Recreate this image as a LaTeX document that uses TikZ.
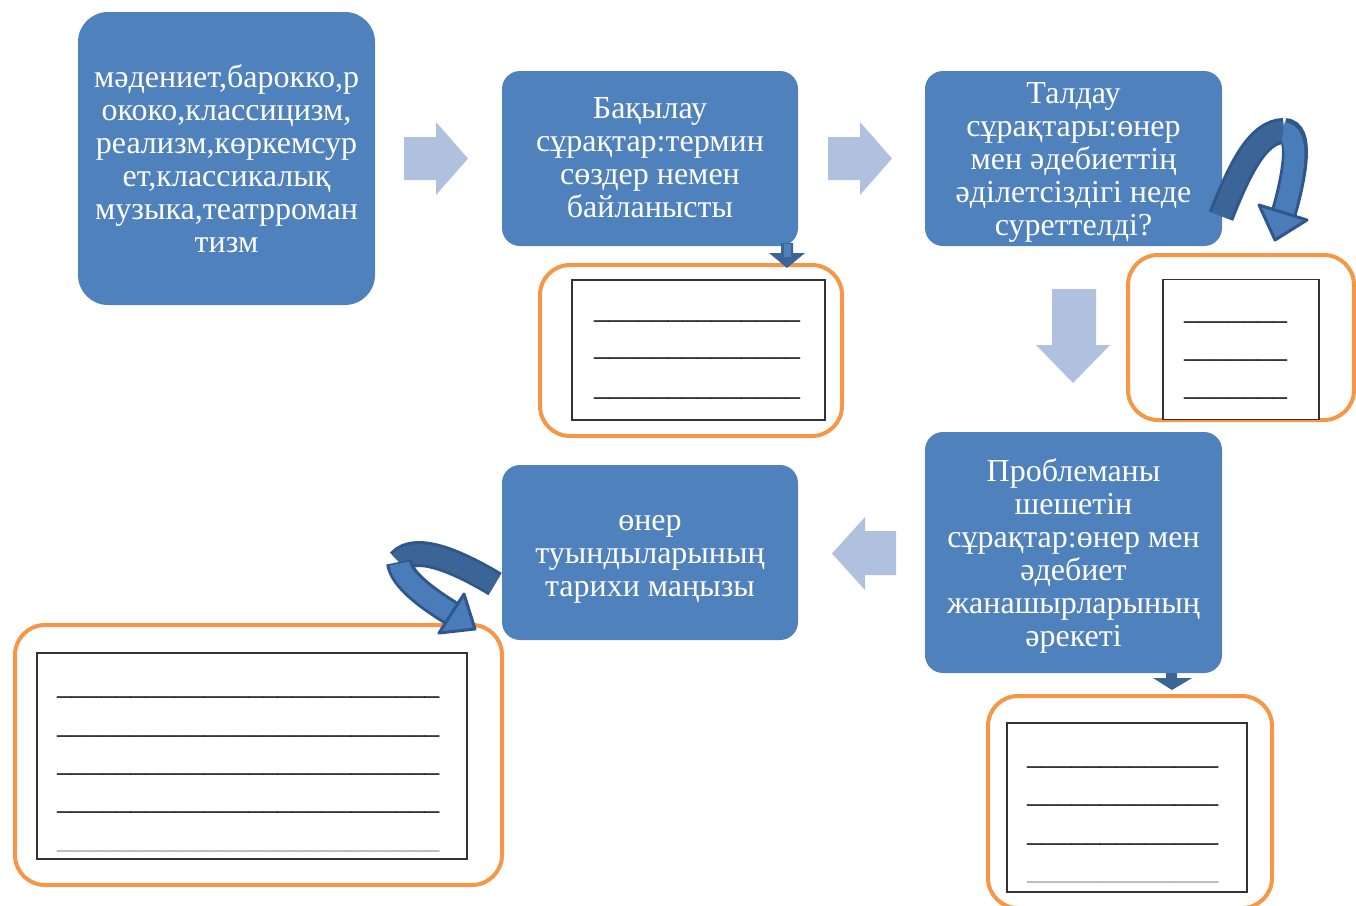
\documentclass[tikz,border=0pt]{standalone}
\usepackage{fontspec}
\setmainfont{Liberation Serif}
\definecolor{boxblue}{HTML}{4F81BD}
\definecolor{lightarrow}{HTML}{AFC1DE}
\definecolor{orangeline}{HTML}{F79646}
\definecolor{darkarrow}{HTML}{3C6597}
\definecolor{arrowedge}{HTML}{30568A}
\definecolor{arrowface}{HTML}{4A7CBA}
\begin{document}
\begin{tikzpicture}[x=1pt,y=-1pt,
  bluebox/.style={fill=boxblue, rounded corners=18pt, inner sep=0pt},
  boxtext/.style={text=white, font=\fontsize{32}{33}\selectfont, align=center, inner sep=0pt},
  orangebox/.style={draw=orangeline, line width=4pt, rounded corners=30pt, inner sep=0pt},
  innerbox/.style={draw=black!80, fill=white, line width=1.3pt, inner sep=0pt},
  uline/.style={anchor=base west, inner sep=0pt, font=\fontsize{29.4}{30}\selectfont},
  grayline/.style={uline, text=black!35},
  lightarr/.style={fill=lightarrow},
  smallarr/.style={fill=darkarrow},
  bandedge/.style={draw=arrowedge, line width=26pt},
  bandback/.style={draw=darkarrow, line width=20pt},
  bandfront/.style={draw=arrowface, line width=20pt},
  headstyle/.style={fill=arrowface, draw=arrowedge, line width=3pt, line join=round}
]
\useasboundingbox (0,0) rectangle (1356,905);
\clip (0,0) rectangle (1356,905);

% blue boxes
\node[bluebox, rounded corners=30pt, minimum width=297pt, minimum height=293pt] (b1) at (226.5,158.5) {};
\node[boxtext] (t1) at (226.5,159)
  {мәдениет,барокко,р\\ококо,классицизм,\\реализм,көркемсур\\ет,классикалық\\музыка,театрроман\\тизм};
\node[bluebox, minimum width=296pt, minimum height=175pt] (b2) at (650,158.5) {};
\node[boxtext] (t2) at (650,158)
  {Бақылау\\сұрақтар:термин\\сөздер немен\\байланысты};
\node[bluebox, minimum width=297pt, minimum height=175pt] (b3) at (1073.5,158.5) {};
\node[boxtext] (t3) at (1073.5,162)
  {Талдау\\сұрақтары:өнер\\мен әдебиеттің\\әділетсіздігі  неде\\суреттелді?};
\node[bluebox, minimum width=297pt, minimum height=241pt] (b4) at (1073.5,552.5) {};
\node[boxtext] (t4) at (1073.5,556)
  {Проблеманы\\шешетін\\сұрақтар:өнер мен\\әдебиет\\жанашырларының\\әрекеті};
\node[bluebox, minimum width=296pt, minimum height=175pt] (b5) at (650,552.5) {};
\node[boxtext] (t5) at (650,559)
  {өнер\\туындыларының\\тарихи маңызы};

% light block arrows
\fill[lightarr] (404,137) -- (436,137) -- (436,122) -- (468,158.5) -- (436,195) -- (436,180) -- (404,180) -- cycle;
\fill[lightarr] (828,137) -- (860,137) -- (860,122) -- (892,158.5) -- (860,195) -- (860,180) -- (828,180) -- cycle;
\fill[lightarr] (1052,289) -- (1096,289) -- (1096,345) -- (1110,345) -- (1073,383) -- (1036,345) -- (1052,345) -- cycle;
\fill[lightarr] (896,531) -- (865,531) -- (865,517) -- (832,553.5) -- (865,590) -- (865,575) -- (896,575) -- cycle;

% orange answer boxes
\node[orangebox, minimum width=302pt, minimum height=171pt] (o1) at (691,350.5) {};
\node[innerbox, minimum width=253pt, minimum height=140pt] (r1) at (698.5,350) {};
\node[orangebox, minimum width=226pt, minimum height=165pt] (o2) at (1241,337.5) {};
\node[innerbox, minimum width=156pt, minimum height=140pt] (r2) at (1241,349.5) {};
\node[orangebox, minimum width=284pt, minimum height=212pt] (o4) at (1130,802) {};
\node[innerbox, minimum width=240pt, minimum height=169pt] (r4) at (1127,807.5) {};
\node[orangebox, minimum width=487pt, minimum height=260pt] (o5) at (258.5,755) {};
\node[innerbox, minimum width=430pt, minimum height=206pt] (r5) at (252,756) {};

% answer lines
\node[uline] (l11) at (594,318.5) {\_\_\_\_\_\_\_\_\_\_\_\_\_\_};
\node[uline] (l12) at (594,355.5) {\_\_\_\_\_\_\_\_\_\_\_\_\_\_};
\node[uline] (l13) at (594,395.5) {\_\_\_\_\_\_\_\_\_\_\_\_\_\_};
\node[uline] (l21) at (1184,319.5) {\_\_\_\_\_\_\_};
\node[uline] (l22) at (1184,357.5) {\_\_\_\_\_\_\_};
\node[uline] (l23) at (1184,395.5) {\_\_\_\_\_\_\_};
\node[uline] (l41) at (1027,764.5) {\_\_\_\_\_\_\_\_\_\_\_\_\_};
\node[uline] (l42) at (1027,802.5) {\_\_\_\_\_\_\_\_\_\_\_\_\_};
\node[uline] (l43) at (1027,841.5) {\_\_\_\_\_\_\_\_\_\_\_\_\_};
\node[grayline] (l44) at (1027,879.5) {\_\_\_\_\_\_\_\_\_\_\_\_\_};
\node[uline] (l51) at (57,694.5) {\_\_\_\_\_\_\_\_\_\_\_\_\_\_\_\_\_\_\_\_\_\_\_\_\_\_};
\node[uline] (l52) at (57,733.5) {\_\_\_\_\_\_\_\_\_\_\_\_\_\_\_\_\_\_\_\_\_\_\_\_\_\_};
\node[uline] (l53) at (57,771.5) {\_\_\_\_\_\_\_\_\_\_\_\_\_\_\_\_\_\_\_\_\_\_\_\_\_\_};
\node[uline] (l54) at (57,809.5) {\_\_\_\_\_\_\_\_\_\_\_\_\_\_\_\_\_\_\_\_\_\_\_\_\_\_};
\node[grayline] (l55) at (57,848.5) {\_\_\_\_\_\_\_\_\_\_\_\_\_\_\_\_\_\_\_\_\_\_\_\_\_\_};

% small dark down arrows
\fill[smallarr] (781,243) -- (793,243) -- (793,253) -- (805,253) -- (787,268) -- (769,253) -- (781,253) -- cycle;
\fill[boxblue] (783.5,244) rectangle (790.5,257);
\fill[smallarr] (1166,673) -- (1177,673) -- (1177,678) -- (1192,678) -- (1172,690) -- (1153,678) -- (1166,678) -- cycle;

% curved arrow top right
\draw[bandedge] (1221,216) .. controls (1240,168) and (1258,131) .. (1284,131);
\draw[bandback] (1221,216) .. controls (1240,168) and (1258,131) .. (1284,131);
\draw[bandedge] (1284,131) .. controls (1301,131) and (1296,170) .. (1284,212);
\draw[bandfront] (1283,132.5) .. controls (1300,132.5) and (1296,170) .. (1284,212);
\draw[headstyle] (1259,205) -- (1275,240) -- (1307,220) -- cycle;

% curved arrow bottom left
\draw[bandedge] (495,584) .. controls (465,566) and (416,541) .. (399,562);
\draw[bandback] (495,584) .. controls (465,566) and (416,541) .. (399,562);
\draw[bandedge] (399,562) .. controls (401,580) and (430,600) .. (451,613);
\draw[bandfront] (399.5,563.5) .. controls (401,580) and (430,600) .. (451,613);
\draw[headstyle] (464,594) -- (475,629) -- (439,633) -- cycle;
\end{tikzpicture}
\end{document}
